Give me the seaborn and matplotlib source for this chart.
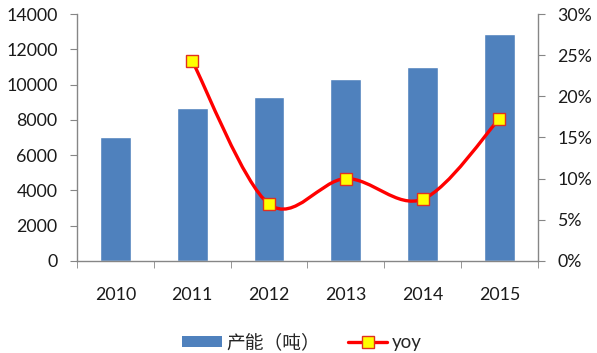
import seaborn as sns
import matplotlib.pyplot as plt
from matplotlib.path import Path
from matplotlib.patches import PathPatch, Patch
from matplotlib.lines import Line2D
from matplotlib.ticker import FuncFormatter, MultipleLocator

years = ["2010", "2011", "2012", "2013", "2014", "2015"]
capacity = [7000, 8700, 9300, 10300, 11000, 12900]
yoy_years = [1, 2, 3, 4, 5]  # index positions of 2011..2015
yoy = [0.243, 0.069, 0.100, 0.075, 0.173]

BAR_COLOR = "#4F81BD"
GRAY = "#868686"


def smooth_path(xs, ys):
    """Excel-like smoothed line as a cubic bezier path through the points."""
    pts = list(zip(xs, ys))
    verts = [pts[0]]
    codes = [Path.MOVETO]
    n = len(pts)
    for i in range(n - 1):
        p0 = pts[i - 1] if i > 0 else pts[i]
        p1 = pts[i]
        p2 = pts[i + 1]
        p3 = pts[i + 2] if i + 2 < n else pts[i + 1]
        c1 = (p1[0] + (p2[0] - p0[0]) / 6, p1[1] + (p2[1] - p0[1]) / 6)
        c2 = (p2[0] - (p3[0] - p1[0]) / 6, p2[1] - (p3[1] - p1[1]) / 6)
        verts += [c1, c2, p2]
        codes += [Path.CURVE4] * 3
    return Path(verts, codes)


sns.set_style("white")
plt.rcParams["font.family"] = ["Lato", "Noto Sans CJK SC", "DejaVu Sans"]

fig = plt.figure(figsize=(5.97, 3.53), dpi=100)
ax = fig.add_axes([0.129, 0.261, 0.772, 0.699])

sns.barplot(x=years, y=capacity, color=BAR_COLOR, width=0.4, saturation=1, ax=ax)
ax.set_xlim(-0.5, 5.5)
ax.set_ylim(0, 14000)
ax.yaxis.set_major_locator(MultipleLocator(2000))
ax.set_xlabel("")
ax.set_ylabel("")

ax2 = ax.twinx()
ax2.set_ylim(0, 0.30)
ax2.yaxis.set_major_locator(MultipleLocator(0.05))
ax2.yaxis.set_major_formatter(FuncFormatter(lambda v, p: f"{v * 100:.0f}%"))
ax2.add_patch(PathPatch(smooth_path(yoy_years, yoy), facecolor="none",
                        edgecolor="#FF0000", lw=2.4, capstyle="round", zorder=3))
ax2.plot(yoy_years, yoy, ls="none", marker="s", ms=8.5, mfc="#FFFF00",
         mec="#E03020", mew=1.0, zorder=4)

for a in (ax, ax2):
    for s in a.spines.values():
        s.set_visible(False)
ax.spines["left"].set_visible(True)
ax.spines["bottom"].set_visible(True)
ax2.spines["right"].set_visible(True)
for s in (ax.spines["left"], ax.spines["bottom"], ax2.spines["right"]):
    s.set_color(GRAY)
    s.set_linewidth(1.0)

ax.tick_params(axis="y", left=True, length=5, color=GRAY, pad=9,
               labelsize=12.8, labelcolor="#1a1a1a")
ax2.tick_params(axis="y", right=True, length=5, color=GRAY, pad=9,
                labelsize=12.8, labelcolor="#1a1a1a")
ax.set_xticks(range(len(years)))
ax.set_xticklabels(years)
ax.set_xticks([i - 0.5 for i in range(len(years) + 1)], minor=True)
ax.tick_params(axis="x", which="major", length=0, pad=19, labelsize=12.8,
               labelcolor="#1a1a1a")
ax.tick_params(axis="x", which="minor", bottom=True, length=5, color=GRAY)

handles = [
    Patch(facecolor=BAR_COLOR, edgecolor="none"),
    Line2D([], [], color="#FF0000", lw=2.4, marker="s", ms=8.5,
           mfc="#FFFF00", mec="#E03020", mew=1.0),
]
fig.legend(handles, ["产能（吨）", "yoy"], loc="center", bbox_to_anchor=(0.506, 0.03),
           ncol=2, frameon=False, fontsize=13.5, handlelength=2.1, handleheight=0.5,
           columnspacing=1.5, handletextpad=0.25)

fig.savefig("out.png", dpi=100)
